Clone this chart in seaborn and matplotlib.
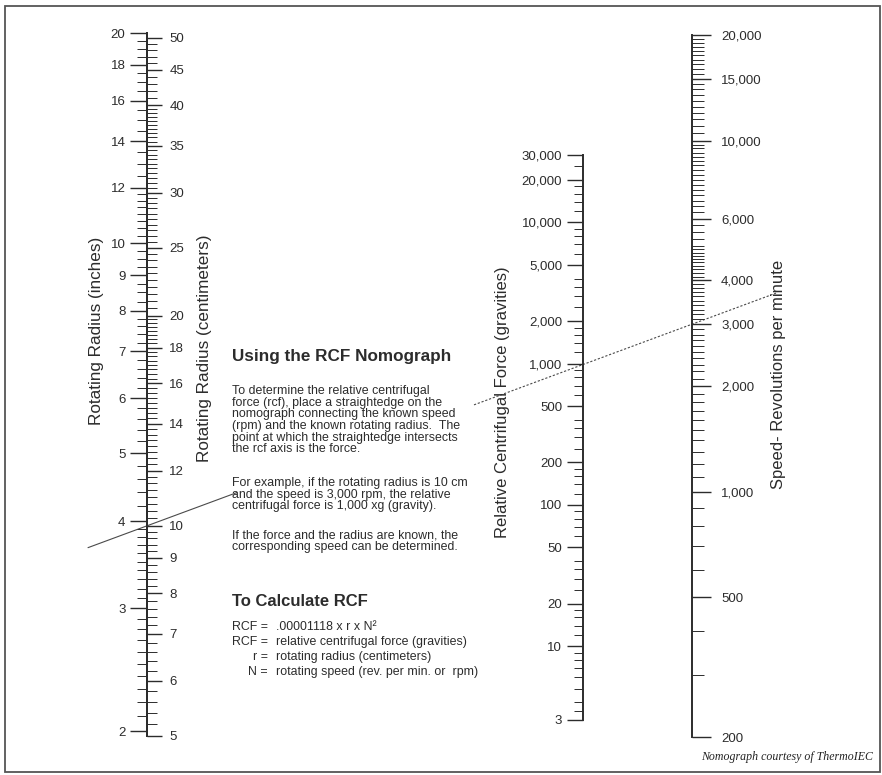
import numpy as np
import matplotlib
matplotlib.use("Agg")
import matplotlib.pyplot as plt
import seaborn as sns
from matplotlib.patches import Rectangle
from matplotlib.ticker import NullFormatter

# scale labels
inch_labels = [2, 3, 4, 5, 6, 7, 8, 9, 10, 12, 14, 16, 18, 20]
cm_labels = [5, 6, 7, 8, 9, 10, 12, 14, 16, 18, 20, 25, 30, 35, 40, 45, 50]
rcf_labels = [3, 10, 20, 50, 100, 200, 500, 1000, 2000, 5000, 10000, 20000, 30000]
rpm_labels = [200, 500, 1000, 2000, 3000, 4000, 6000, 10000, 15000, 20000]

# worked example drawn as the straightedge
example_cm = 10
example_rpm = 3000
example_rcf = 1000

sns.set_style("ticks")
plt.rcParams["font.family"] = ["Liberation Sans", "DejaVu Sans"]

W, H = 882, 775
ink = "#2c2c2c"
fig = plt.figure(figsize=(W / 100, H / 100), dpi=100)

ov = fig.add_axes([0, 0, 1, 1])
ov.set_xlim(0, W)
ov.set_ylim(H, 0)
ov.axis("off")
ov.add_patch(Rectangle((4.5, 5.5), 875.5, 766, fill=False, ec="#555555", lw=1.3))


def scale_axes(x, y_top, y_bot, lo, hi):
    ax = fig.add_axes([x / W, 1 - y_bot / H, 1 / W, (y_bot - y_top) / H])
    ax.set_yscale("log")
    ax.set_ylim(lo, hi)
    ax.set_xlim(0, 1)
    ax.set_xticks([])
    ax.patch.set_alpha(0)
    for s in ax.spines.values():
        s.set_visible(False)
    return ax


def style_ticks(ax, major, minor, labels, side, pad, big=12, small=6.5):
    ax.set_yticks(major, labels)
    ax.set_yticks([m for m in minor if m not in major], minor=True)
    ax.yaxis.set_minor_formatter(NullFormatter())
    if side == "right":
        ax.yaxis.tick_right()
        ax.spines["right"].set_position(("axes", 0))
    else:
        ax.yaxis.tick_left()
    sp = ax.spines[side]
    sp.set_visible(True)
    sp.set_color(ink)
    sp.set_linewidth(1.4)
    ax.tick_params(axis="y", which="major", direction="out", length=big, width=1.0,
                   color=ink, labelsize=9.5, labelcolor=ink, pad=pad)
    ax.tick_params(axis="y", which="minor", direction="out", length=small, width=0.7,
                   color=ink)


# rotating radius, inches (left) and centimetres (right)
ax_in = scale_axes(147, 33, 736, 5 / 2.54, 20)
in_minor = np.round(np.concatenate([np.arange(2, 4, 0.1), np.arange(4, 8, 0.2),
                                    np.arange(8, 12, 0.25), np.arange(12, 20.01, 0.5)]), 2)
style_ticks(ax_in, inch_labels, in_minor, [str(v) for v in inch_labels], "left", 3.5,
            small=7.5)

ax_cm = ax_in.twinx()
ax_cm.set_yscale("log")
ax_cm.set_ylim(5, 50.8)
ax_cm.set_xticks([])
for s in ax_cm.spines.values():
    s.set_visible(False)
cm_minor = np.round(np.concatenate([np.arange(5, 10, 0.2), np.arange(10, 20, 0.25),
                                    np.arange(20, 40, 0.5), np.arange(40, 50.01, 1)]), 2)
style_ticks(ax_cm, cm_labels, cm_minor, [str(v) for v in cm_labels], "right", 5, big=11,
            small=7)

# relative centrifugal force
ax_rcf = scale_axes(583, 155, 720, 3, 30000)
steps = np.array([1.2, 1.4, 1.6, 1.8, 2, 2.5, 3, 3.5, 4, 5, 6, 7, 8, 9])
rcf_minor = np.concatenate([steps * d for d in [1, 10, 100, 1000, 10000]])
rcf_minor = rcf_minor[(rcf_minor > 3) & (rcf_minor < 30000)]
style_ticks(ax_rcf, rcf_labels, list(rcf_minor), [f"{v:,}" for v in rcf_labels], "left", 3.5,
            big=11.5, small=6.5)

# speed
ax_rpm = scale_axes(692, 35, 737, 200, 20000)
rpm_minor = np.concatenate([np.arange(200, 1000, 100), np.arange(1000, 5000, 100),
                            np.arange(5000, 10000, 250), np.arange(10000, 20001, 500)])
style_ticks(ax_rpm, rpm_labels, list(rpm_minor), [f"{v:,}" for v in rpm_labels], "right", 7,
            big=14, small=8.5)

# axis titles
title_kw = dict(rotation=90, ha="center", va="center", color=ink)
ov.text(96, 331, "Rotating Radius (inches)", fontsize=12.3, **title_kw)
ov.text(205, 348, "Rotating Radius (centimeters)", fontsize=12.3, **title_kw)
ov.text(503, 402, "Relative Centrifugal Force (gravities)", fontsize=12, **title_kw)
ov.text(778, 374, "Speed- Revolutions per minute", fontsize=12, **title_kw)

# straightedge through the example radius and speed
def to_px(ax, v):
    x, y = ax.transData.transform((0, v))
    return x, H - y

rx, ry = to_px(ax_cm, example_cm)
nx, ny = to_px(ax_rpm, example_rpm)
slope = (ny - ry) / (nx - rx)
for x0, x1, ls in [(88, 237, "-"), (474, 776, (0, (2, 1.6)))]:
    xs = np.array([x0, x1])
    sns.lineplot(x=xs, y=ry + slope * (xs - rx), ax=ov, color="#4a4a4a",
                 lw=0.8, linestyle=ls, estimator=None)

# instructions block
ov.text(232, 357, "Using the RCF Nomograph", fontsize=12.3, fontweight="bold",
        color=ink, va="center")
para = [
    (391, "To determine the relative centrifugal"),
    (402.7, "force (rcf), place a straightedge on the"),
    (414.4, "nomograph connecting the known speed"),
    (426.1, "(rpm) and the known rotating radius.  The"),
    (437.8, "point at which the straightedge intersects"),
    (449.5, "the rcf axis is the force."),
    (483, "For example, if the rotating radius is 10 cm"),
    (494.7, "and the speed is 3,000 rpm, the relative"),
    (506.4, f"centrifugal force is {example_rcf:,} xg (gravity)."),
    (535, "If the force and the radius are known, the"),
    (546.7, "corresponding speed can be determined."),
]
for y, line in para:
    ov.text(232, y, line, fontsize=8.9, color=ink, va="center")

ov.text(232, 602, "To Calculate RCF", fontsize=12, fontweight="bold", color=ink, va="center")
formula = [
    (627, "RCF =", ".00001118 x r x N\u00b2"),
    (642, "RCF =", "relative centrifugal force (gravities)"),
    (657, "r =", "rotating radius (centimeters)"),
    (672, "N =", "rotating speed (rev. per min. or  rpm)"),
]
for y, lhs, rhs in formula:
    ov.text(268, y, lhs, fontsize=8.9, color=ink, va="center", ha="right")
    ov.text(276, y, rhs, fontsize=8.9, color=ink, va="center")

ov.text(873, 757, "Nomograph courtesy of ThermoIEC", fontsize=8.6, style="italic",
        family=["Liberation Serif", "DejaVu Serif"], color="#222222", ha="right", va="center")

fig.savefig("out.png", dpi=100)
